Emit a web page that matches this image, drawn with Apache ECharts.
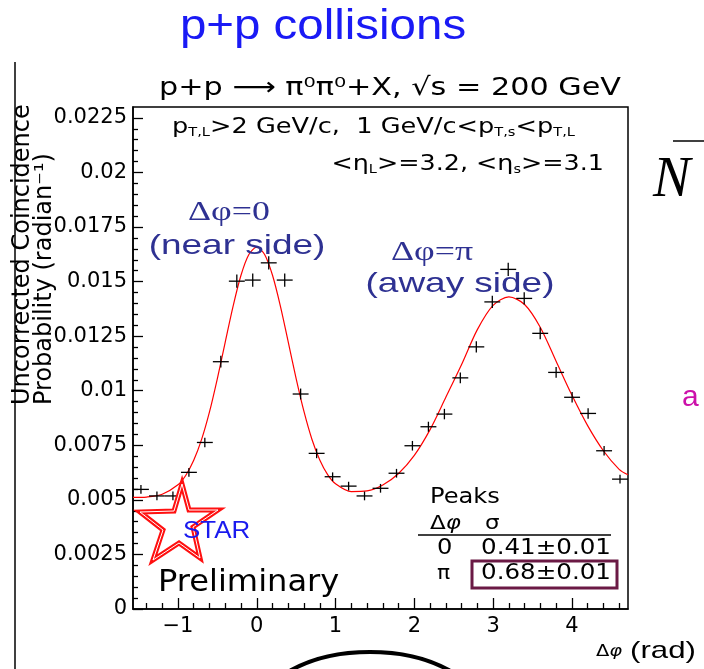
<!DOCTYPE html>
<html>
<head>
<meta charset="utf-8">
<script src="https://cdn.jsdelivr.net/npm/echarts@6/dist/echarts.min.js"></script>
<style>
  html, body { margin: 0; padding: 0; background: #fff; }
  #chart { width: 704px; height: 669px; }
</style>
</head>
<body>
<div id="chart"></div>
<script>
// measured points: bin centre (rad), coincidence probability, error
const xs = [-1.470, -1.267, -1.064, -0.861, -0.659, -0.456, -0.253, -0.051, 0.152, 0.355,
  0.557, 0.760, 0.963, 1.166, 1.368, 1.571, 1.774, 1.976, 2.179, 2.382,
  2.584, 2.787, 2.990, 3.192, 3.395, 3.598, 3.800, 4.003, 4.206, 4.409, 4.611];
const ys = [0.00548, 0.00518, 0.00518, 0.00626, 0.00763, 0.01133, 0.01502, 0.01507, 0.01586, 0.01507,
  0.00985, 0.00713, 0.00606, 0.00563, 0.00518, 0.00553, 0.00622, 0.00748, 0.00835, 0.00893,
  0.01059, 0.01201, 0.01407, 0.01556, 0.01423, 0.01263, 0.01084, 0.00970, 0.00896, 0.00725, 0.00595];
const yErr = [0.0002, 0.0002, 0.0002, 0.0002, 0.00022, 0.00027, 0.0003, 0.0003, 0.0003, 0.0003,
  0.00025, 0.00022, 0.0002, 0.0002, 0.0002, 0.0002, 0.0002, 0.00022, 0.00023, 0.00024,
  0.00025, 0.00026, 0.00028, 0.0003, 0.00028, 0.00027, 0.00025, 0.00024, 0.00024, 0.00022, 0.0002];
const binHalf = 0.101;

// fitted curve
const fitX = [-1.571, -1.4, -1.2, -1.0, -0.9, -0.8, -0.7, -0.6, -0.5, -0.4, -0.3, -0.2, -0.1, 0,
  0.1, 0.2, 0.3, 0.4, 0.5, 0.6, 0.7, 0.8, 0.9, 1.0, 1.2, 1.4, 1.6, 1.8, 2.0, 2.2, 2.4, 2.6,
  2.8, 3.0, 3.2, 3.4, 3.6, 3.8, 4.0, 4.2, 4.4, 4.6, 4.712];
const fitY = [0.00511, 0.00513, 0.00526, 0.00569, 0.00613, 0.00681, 0.00777, 0.00903, 0.01056, 0.01223,
  0.01388, 0.01529, 0.01624, 0.01658, 0.01624, 0.01529, 0.01388, 0.01223, 0.01056, 0.00904,
  0.00778, 0.00683, 0.00616, 0.00574, 0.00538, 0.00541, 0.00568, 0.00621, 0.00704, 0.00822,
  0.00970, 0.01120, 0.01280, 0.01391, 0.01430, 0.01395, 0.01290, 0.01135, 0.00980, 0.00840,
  0.00725, 0.00640, 0.00615];

const xMajor = [-1, 0, 1, 2, 3, 4];
const xMinor = [-1.4, -1.2, -0.8, -0.6, -0.4, -0.2, 0.2, 0.4, 0.6, 0.8, 1.2, 1.4, 1.6, 1.8,
  2.2, 2.4, 2.6, 2.8, 3.2, 3.4, 3.6, 3.8, 4.2, 4.4, 4.6];
const yMajor = [0, 0.0025, 0.005, 0.0075, 0.01, 0.0125, 0.015, 0.0175, 0.02, 0.0225];
const yMinor = [0.0005, 0.001, 0.0015, 0.002, 0.003, 0.0035, 0.004, 0.0045, 0.0055, 0.006, 0.0065, 0.007,
  0.008, 0.0085, 0.009, 0.0095, 0.0105, 0.011, 0.0115, 0.012, 0.013, 0.0135, 0.014, 0.0145,
  0.0155, 0.016, 0.0165, 0.017, 0.018, 0.0185, 0.019, 0.0195, 0.0205, 0.021, 0.0215, 0.022];

const peakRows = [['0', '0.41±0.01'], ['π', '0.68±0.01']];

const chart = echarts.init(document.getElementById('chart'));
const AX = 'DejaVu Sans';
const lab = { color: '#000', fontFamily: AX, fontSize: 21 };
const SX = 1.28; // the slide picture is stretched sideways

const xBase = { type: 'value', min: -Math.PI / 2, max: 1.5 * Math.PI, position: 'bottom', splitLine: { show: false } };
const yBase = { type: 'value', min: 0, max: 0.023, position: 'left', splitLine: { show: false } };

function txt(x, y, text, font, fill, align, extra) {
  return Object.assign({
    type: 'text', x: x, y: y, z: 12,
    style: { text: text, font: font, fill: fill, align: align, verticalAlign: 'middle' }
  }, extra || {});
}

option = {
  animation: false,
  backgroundColor: '#fff',
  grid: {
    left: 133, right: 76, top: 107, bottom: 60,
    show: true, borderColor: '#000', borderWidth: 1.5
  },
  xAxis: [
    Object.assign({}, xBase, {
      axisLine: { onZero: false, lineStyle: { color: '#000', width: 1.5 } },
      axisTick: { inside: true, length: 11, lineStyle: { color: '#000', width: 1.3 }, customValues: xMajor },
      axisLabel: Object.assign({ margin: 7, customValues: xMajor,
        formatter: v => (v < 0 ? '\u2212' + Math.abs(v) : '' + v) }, lab)
    }),
    Object.assign({}, xBase, {
      axisLine: { show: false, onZero: false },
      axisTick: { inside: true, length: 6, lineStyle: { color: '#000', width: 1.3 }, customValues: xMinor },
      axisLabel: { show: false }
    })
  ],
  yAxis: [
    Object.assign({}, yBase, {
      axisLine: { onZero: false, lineStyle: { color: '#000', width: 1.5 } },
      axisTick: { inside: true, length: 10, lineStyle: { color: '#000', width: 1.3 }, customValues: yMajor },
      axisLabel: Object.assign({ margin: 6, customValues: yMajor, formatter: v => '' + v }, lab)
    }),
    Object.assign({}, yBase, {
      axisLine: { show: false, onZero: false },
      axisTick: { inside: true, length: 5, lineStyle: { color: '#000', width: 1.3 }, customValues: yMinor },
      axisLabel: { show: false }
    })
  ],
  series: [
    {
      type: 'line',
      data: fitX.map((x, i) => [x, fitY[i]]),
      smooth: 0.3,
      showSymbol: false,
      lineStyle: { color: '#ff0000', width: 1.2 },
      z: 2
    },
    {
      type: 'custom',
      data: xs.map((x, i) => [x, ys[i], yErr[i]]),
      renderItem: function (params, api) {
        const x = api.value(0), y = api.value(1), e = api.value(2);
        const l = api.coord([x - binHalf, y]);
        const r = api.coord([x + binHalf, y]);
        const t = api.coord([x, y + e]);
        const b = api.coord([x, y - e]);
        const st = { stroke: '#000', lineWidth: 1.3 };
        return {
          type: 'group',
          children: [
            { type: 'line', shape: { x1: l[0], y1: l[1], x2: r[0], y2: r[1] }, style: st },
            { type: 'line', shape: { x1: t[0], y1: t[1], x2: b[0], y2: b[1] }, style: st }
          ]
        };
      },
      z: 3
    }
  ],
  graphic: [
    // slide title
    txt(323, 27, 'p+p collisions', '42px "Liberation Sans"', '#1a1af5', 'center', { scaleX: 1.13 }),
    // plot title and cuts
    txt(390, 88, 'p+p \u27F6 \u03C0\u2070\u03C0\u2070+X, \u221As = 200 GeV', '25px "DejaVu Sans"', '#000', 'center', { scaleX: 1.21 }),
    { type: 'text', x: 172, y: 128, scaleX: 1.22, style: {
      text: 'p{s|T,L}>2 GeV/c,  1 GeV/c<p{s|T,s}<p{s|T,L}', font: '21px "DejaVu Sans"', fill: '#000', align: 'left', verticalAlign: 'middle',
      rich: { s: { fontSize: 12, fontFamily: AX, padding: [9, 0, 0, 0] } } } },
    { type: 'text', x: 604, y: 165, scaleX: 1.21, style: {
      text: '<\u03B7{s|L}>=3.2, <\u03B7{s|s}>=3.1', font: '21px "DejaVu Sans"', fill: '#000', align: 'right', verticalAlign: 'middle',
      rich: { s: { fontSize: 12, fontFamily: AX, padding: [9, 0, 0, 0] } } } },
    // y axis name
    txt(23, 405, 'Uncorrected Coincidence', '24px "DejaVu Sans"', '#000', 'left', { rotation: Math.PI / 2 }),
    txt(45, 405, 'Probability (radian\u207B\u00B9)', '24px "DejaVu Sans"', '#000', 'left', { rotation: Math.PI / 2 }),
    // slide border line
    { type: 'line', z: 13, shape: { x1: 15, y1: 62, x2: 15, y2: 669 }, style: { stroke: '#000', lineWidth: 1.5 } },
    // peak annotations
    txt(229, 213, '\u0394\u03C6=0', '28px "Liberation Serif"', '#2e3192', 'center', { scaleX: SX }),
    txt(237, 246, '(near side)', '28px "Liberation Sans"', '#2e3192', 'center', { scaleX: 1.32 }),
    txt(432, 253, '\u0394\u03C6=\u03C0', '28px "Liberation Serif"', '#2e3192', 'center', { scaleX: SX }),
    txt(460, 284, '(away side)', '28px "Liberation Sans"', '#2e3192', 'center', { scaleX: 1.32 }),
    // STAR logo
    { type: 'polygon', z: 10, shape: { points: [[182, 484], [189, 510], [218, 510], [193, 527], [200, 558], [179, 543], [153, 560], [163, 530], [140, 512], [174, 511]] },
      style: { fill: 'none', stroke: '#ff1010', lineWidth: 5, lineJoin: 'miter' } },
    { type: 'polygon', z: 11, shape: { points: [[182, 484], [189, 510], [218, 510], [193, 527], [200, 558], [179, 543], [153, 560], [163, 530], [140, 512], [174, 511]] },
      style: { fill: 'none', stroke: '#fff', lineWidth: 1 } },
    txt(183, 531, 'STAR', '24px "Liberation Sans"', '#1a1aee', 'left', { scaleX: 1.08 }),
    txt(158, 583, 'Preliminary', '30px "DejaVu Sans"', '#000', 'left', { scaleX: 1.07 }),
    // peaks table
    txt(430, 498, 'Peaks', '21px "DejaVu Sans"', '#000', 'left', { scaleX: 1.15 }),
    { type: 'text', x: 430, y: 524, scaleX: 1.15, style: { text: '\u0394{i|\u03C6}', font: '20px "DejaVu Sans"', fill: '#000', align: 'left', verticalAlign: 'middle',
      rich: { i: { fontSize: 20, fontFamily: AX, fontStyle: 'italic' } } } },
    txt(485, 524, '\u03C3', '20px "DejaVu Sans"', '#000', 'left', { scaleX: 1.15 }),
    { type: 'line', shape: { x1: 418, y1: 535, x2: 611, y2: 535 }, style: { stroke: '#000', lineWidth: 1.5 } },
    txt(437, 549, peakRows[0][0], '21px "DejaVu Sans"', '#000', 'left', { scaleX: 1.15 }),
    txt(481, 549, peakRows[0][1], '21px "DejaVu Sans"', '#000', 'left', { scaleX: 1.17 }),
    txt(437, 574, peakRows[1][0], '19px "DejaVu Sans"', '#000', 'left', { scaleX: 1.15 }),
    txt(481, 574, peakRows[1][1], '21px "DejaVu Sans"', '#000', 'left', { scaleX: 1.17 }),
    { type: 'rect', shape: { x: 472, y: 561, width: 145, height: 27 }, style: { fill: 'none', stroke: '#6b1a45', lineWidth: 3 } },
    // x axis name
    { type: 'text', x: 596, y: 652, scaleX: 1.3, style: { text: '\u0394{i|\u03C6}', font: '15px "DejaVu Sans"', fill: '#000', align: 'left', verticalAlign: 'middle',
      rich: { i: { fontSize: 15, fontStyle: 'italic', fontFamily: AX } } } },
    txt(630, 651, '(rad)', '24px "Liberation Sans"', '#000', 'left', { scaleX: 1.3 }),
    // slide decorations
    { type: 'ellipse', shape: { cx: 370, cy: 712, rx: 110, ry: 60 }, style: { fill: 'none', stroke: '#000', lineWidth: 4 } },
    { type: 'line', shape: { x1: 673, y1: 141, x2: 704, y2: 141 }, style: { stroke: '#000', lineWidth: 1.5 } },
    txt(653, 181, 'N', 'italic 56px "Liberation Serif"', '#000', 'left'),
    txt(682, 398, 'a', '30px "Liberation Sans"', '#cc11aa', 'left')
  ]
};

option && chart.setOption(option);
</script>
</body>
</html>
